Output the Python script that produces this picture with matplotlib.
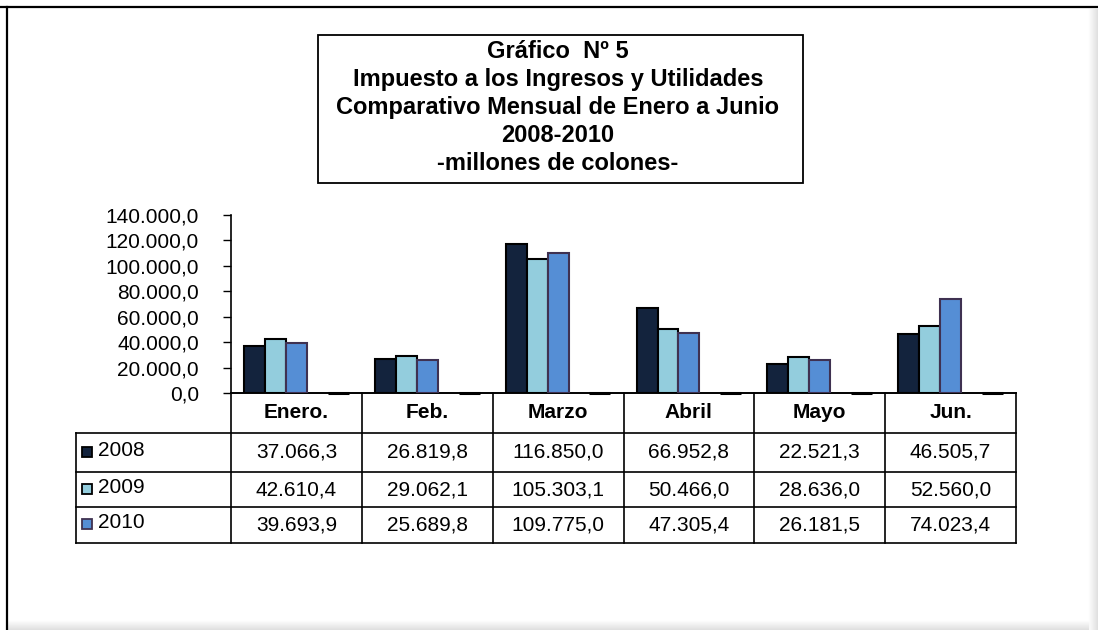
import numpy as np
import matplotlib
matplotlib.use("Agg")
import matplotlib.pyplot as plt
from matplotlib.patches import Rectangle
from matplotlib.lines import Line2D
from matplotlib.ticker import FuncFormatter

# datos (millones de colones)
meses = ["Enero.", "Feb.", "Marzo", "Abril", "Mayo", "Jun."]
anios = ["2008", "2009", "2010"]
v2008 = [37066.3, 26819.8, 116850.0, 66952.8, 22521.3, 46505.7]
v2009 = [42610.4, 29062.1, 105303.1, 50466.0, 28636.0, 52560.0]
v2010 = [39693.9, 25689.8, 109775.0, 47305.4, 26181.5, 74023.4]
serie_vacia = [0.0, 0.0, 0.0, 0.0, 0.0, 0.0]  # serie en cero que Excel dibuja como raya

titulo = ["Gráfico  Nº 5",
          "Impuesto a los Ingresos y Utilidades",
          "Comparativo Mensual de Enero a Junio",
          "2008-2010",
          "-millones de colones-"]

colores = ["#13233d", "#93cddd", "#558ed5"]
bordes = ["black", "black", "#3f3151"]

W, H = 1098, 630
FONT = "Liberation Sans"


def es_num(x, dec=1):
    s = f"{x:,.{dec}f}"
    return s.replace(",", "X").replace(".", ",").replace("X", ".")


def px(x, y):
    # pixeles (origen arriba a la izquierda) -> fraccion de figura
    return x / W, 1 - y / H


fig = plt.figure(figsize=(W / 100, H / 100), dpi=100)
fig.patch.set_facecolor("white")

# marco exterior con sombra
for k in range(10):
    g = 1 - 0.013 * (k + 1)
    fig.add_artist(Line2D([px(1088.5 + k, 0)[0]] * 2, [0, px(0, 9)[1]], color=str(g), lw=0.75))
    fig.add_artist(Line2D([px(8, 0)[0], px(1088, 0)[0]], [px(0, 620.5 + k)[1]] * 2, color=str(g), lw=0.75))
fig.add_artist(Line2D([0, 1], [px(0, 7)[1]] * 2, color="black", lw=1.6))
fig.add_artist(Line2D([px(7, 0)[0]] * 2, [0, px(0, 7)[1]], color="black", lw=1.6))

# cuadro del titulo
x0, y0 = px(318, 183)
x1, y1 = px(803, 35)
fig.add_artist(Rectangle((x0, y0), x1 - x0, y1 - y0, transform=fig.transFigure,
                         facecolor="white", edgecolor="black", lw=1.3))
for i, linea in enumerate(titulo):
    fx, fy = px(558, 52 + i * 27.8)
    fig.text(fx, fy, linea, ha="center", va="center", fontsize=17,
             fontweight="bold", family=FONT)

# ejes de las barras
ax = fig.add_axes([231 / W, 1 - 393 / H, 785 / W, 178 / H])
n = len(meses)
x = np.arange(n)
w = 0.16
series = [v2008, v2009, v2010]
for k, (vals, c, e) in enumerate(zip(series, colores, bordes)):
    ax.bar(x + (k - 2) * w, vals, width=w, color=c, edgecolor=e, lw=1.5, zorder=3)
ax.bar(x + 2 * w, serie_vacia, width=w, color="black", edgecolor="black", lw=2.2,
       zorder=3, clip_on=False)

ax.set_xlim(-0.5, n - 0.5)
ax.set_ylim(0, 140000)
ax.set_yticks(np.arange(0, 140001, 20000))
ax.yaxis.set_major_formatter(FuncFormatter(lambda v, p: es_num(v)))
ax.tick_params(axis="y", length=6, width=1, pad=17, labelsize=15)
for lab in ax.get_yticklabels():
    lab.set_family(FONT)
ax.set_xticks([])
for s in ["top", "right"]:
    ax.spines[s].set_visible(False)
ax.spines["left"].set_linewidth(1.2)
ax.spines["bottom"].set_linewidth(1.2)

# tabla de datos debajo del grafico
filas = [0.0, -40 / 178, -79 / 178, -114 / 178, -150 / 178]
izq = (76 - 231) / 785
tf = ax.transAxes
lk = dict(color="black", lw=1.2, transform=tf, clip_on=False)
for i in range(n + 1):
    ax.add_line(Line2D([i / n, i / n], [filas[0], filas[-1]], **lk))
ax.add_line(Line2D([izq, izq], [filas[1], filas[-1]], **lk))
ax.add_line(Line2D([0, 1], [filas[0], filas[0]], **lk))
for fy in filas[1:]:
    ax.add_line(Line2D([izq, 1], [fy, fy], **lk))

for i, m in enumerate(meses):
    ax.text((i + 0.5) / n, (filas[0] + filas[1]) / 2, m, transform=tf, ha="center",
            va="center", fontsize=15, fontweight="bold", family=FONT)
for r, (nombre, vals) in enumerate(zip(anios, series)):
    yc = (filas[r + 1] + filas[r + 2]) / 2
    for i, v in enumerate(vals):
        ax.text((i + 0.5) / n, yc, es_num(v), transform=tf, ha="center", va="center",
                fontsize=15, family=FONT)
    # clave de leyenda
    kx = (82 - 231) / 785
    ax.add_patch(Rectangle((kx, yc - 4 / 178), 10 / 785, 10 / 178, transform=tf,
                           facecolor=colores[r], edgecolor=bordes[r], lw=1.3,
                           clip_on=False))
    ax.text((98 - 231) / 785, yc + 2 / 178, nombre, transform=tf, ha="left",
            va="center", fontsize=15, family=FONT)

fig.savefig("out.png", dpi=100)
